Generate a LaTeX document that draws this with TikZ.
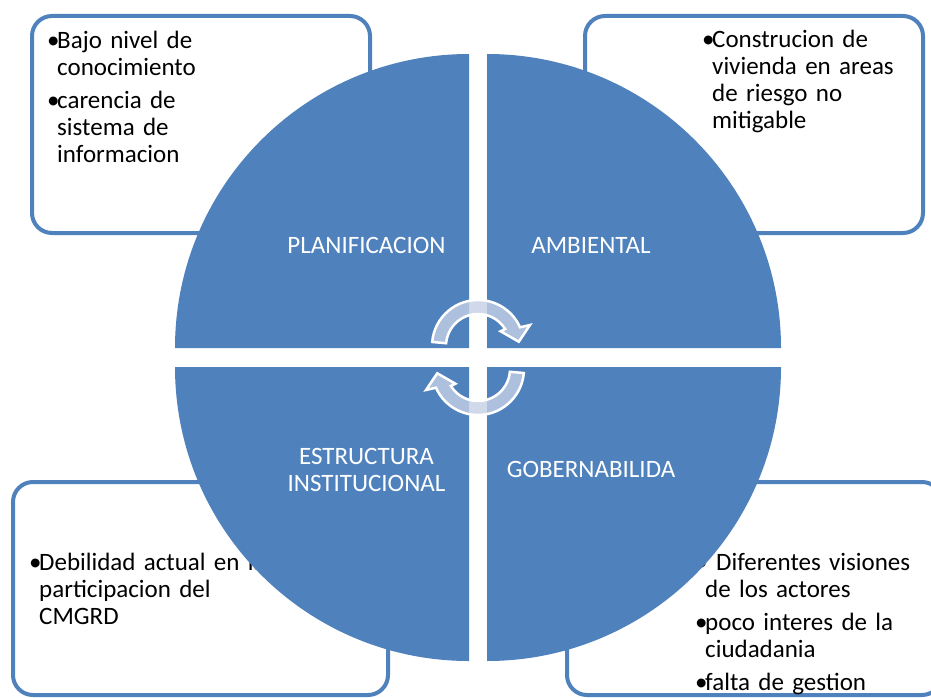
\documentclass[tikz,border=0pt]{standalone}
\usepackage{fontspec}
\setmainfont{Carlito}
\usepackage{tikz}

\definecolor{qblue}{HTML}{4F81BD}
\definecolor{arrowfill}{RGB}{197,208,229}

\newcommand{\bul}[1]{\hangindent=10pt\hangafter=1\noindent\makebox[10pt][l]{•}#1\par}

\tikzset{
  cyclearrow/.pic={
    \path[draw=white, line width=2.5pt, fill=arrowfill, fill opacity=0.8]
      (-175:46) arc[start angle=-175, end angle=-24, radius=46]
      -- (-22:56) -- (-6:41) -- (-33:27) -- (-32:32)
      arc[start angle=-32, end angle=-175, radius=32] -- cycle;
  }
}

\begin{document}
\begin{tikzpicture}[x=1pt, y=-1pt,
  box/.style={draw=qblue, line width=4pt, rounded corners=20pt, inner sep=0pt, fill=white},
  boxtext/.style={inner sep=0pt, text width=330pt, font=\fontsize{25pt}{27pt}\selectfont,
    execute at begin node={\parskip=6pt\parindent=0pt\rightskip=0pt plus 1fil}},
  quad/.style={fill=qblue},
  quadlabel/.style={inner sep=0pt, text=white, align=center, font=\fontsize{25pt}{27pt}\selectfont}]

\clip (0,0) rectangle (931,698);
\fill[white] (0,0) rectangle (931,698);

% frames behind the circle
\node[box, minimum width=338pt, minimum height=217pt] (boxplan) at (201,124.5) {};
\node[box, minimum width=338pt, minimum height=217pt] (boxamb) at (754,124.5) {};
\node[box, minimum width=375pt, minimum height=213pt] (boxest) at (200.5,588.5) {};
\node[box, minimum width=375pt, minimum height=213pt] (boxgob) at (754.5,588.5) {};

\node[boxtext, anchor=base west] (txtplan) at (47,49)
  {\bul{Bajo nivel de\newline conocimiento}\bul{carencia de\newline sistema de\newline informacion}};
\node[boxtext, anchor=base west] (txtamb) at (702,48)
  {\bul{Construcion de\newline vivienda en areas\newline de riesgo no\newline mitigable}};
\node[boxtext, anchor=base west] (txtest) at (29,570)
  {\bul{Debilidad actual en la\newline participacion del\newline CMGRD}};
\node[boxtext, anchor=base west] (txtgob) at (695,570)
  {\bul{\hspace*{11pt}Diferentes visiones\newline de los actores}\bul{poco interes de la\newline ciudadania}\bul{falta de gestion}};

% the four quarters
\fill[quad] (469,348) -- (175,348) arc[start angle=180, end angle=270, radius=294] -- cycle;
\fill[quad] (487,348) -- (487,54) arc[start angle=270, end angle=360, radius=294] -- cycle;
\fill[quad] (469,367) -- (469,661) arc[start angle=90, end angle=180, radius=294] -- cycle;
\fill[quad] (487,367) -- (781,367) arc[start angle=0, end angle=90, radius=294] -- cycle;

\node[quadlabel, anchor=base] (lplan) at (366.5,253) {PLANIFICACION};
\node[quadlabel, anchor=base] (lamb) at (591,253) {AMBIENTAL};
\node[quadlabel, anchor=base] (lest) at (366.5,491) {ESTRUCTURA\\INSTITUCIONAL};
\node[quadlabel, anchor=base] (lgob) at (591,477) {GOBERNABILIDA};

% cycle arrows in the middle
\pic (arrtop) at (478,346) {cyclearrow};
\pic[rotate=180] (arrbot) at (478,369) {cyclearrow};

\end{tikzpicture}
\end{document}
